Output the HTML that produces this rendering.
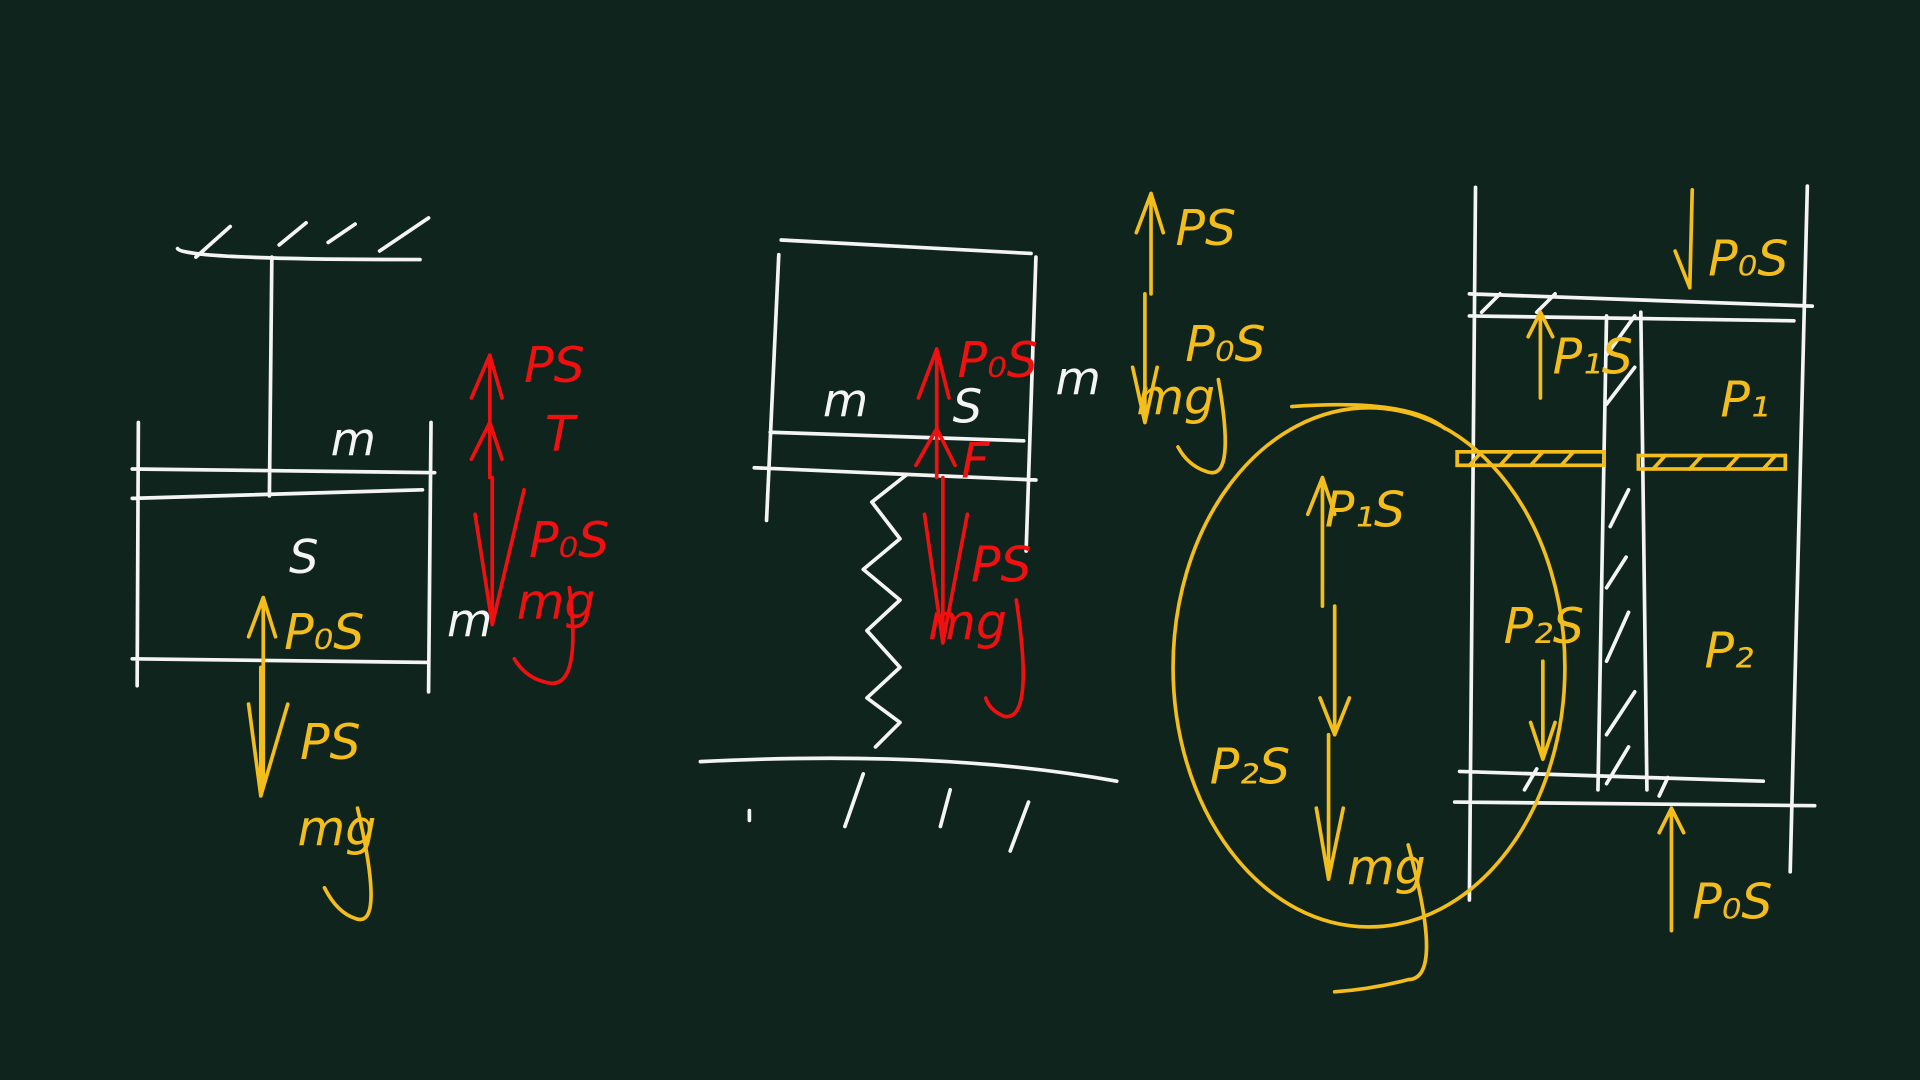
<!DOCTYPE html>
<html><head><meta charset="utf-8"><style>
html,body{margin:0;padding:0;background:#10241e;width:1920px;height:1080px;overflow:hidden}
svg{display:block}
text{font-family:"DejaVu Sans","Liberation Sans",sans-serif;font-style:italic}
.w{stroke:#f4f4f4;stroke-width:3;fill:none;stroke-linecap:round;stroke-linejoin:round}
.y{stroke:#f3bd1c;stroke-width:3;fill:none;stroke-linecap:round;stroke-linejoin:round}
.r{stroke:#f01010;stroke-width:3;fill:none;stroke-linecap:round;stroke-linejoin:round}
.ty{fill:#f3bd1c;font-size:40px}
.tr{fill:#f01010;font-size:40px}
.tw{fill:#f4f4f4;font-size:38px}
</style></head><body>
<svg width="1920" height="1080" viewBox="0 0 1568 882" xmlns="http://www.w3.org/2000/svg">
<rect width="1568" height="882" fill="#10241e"/>
<!-- LEFT -->
<path class="w" d="M145,203 Q150,212 343,212 M160,210 L188,185 M228,200 L250,182 M268,198 L290,183 M310,205 L350,178"/>
<path class="w" d="M222,210 L220,405 M113,345 L112,560 M352,345 L350,565 M108,383 L355,386 M108,407 L345,400 M108,538 L350,541"/>
<text class="tw" x="270" y="372">m</text>
<text class="tw" x="236" y="468">S</text>
<path class="y" d="M215,640 L215,488 M203,520 L215,488 L225,520 M213,545 L213,650 M203,575 L213,650 L235,575"/>
<text class="ty" x="232" y="530">P₀S</text>
<text class="ty" x="245" y="620">PS</text>
<text class="ty" x="243" y="690">mg</text>
<path class="y" d="M292,660 Q315,760 290,750 Q275,745 265,725"/>
<path class="r" d="M400,390 L400,290 M385,325 L400,290 L410,325 M385,375 L400,345 L410,375 M402,390 L402,510 M388,420 L402,510 L428,400"/>
<text class="tr" x="428" y="312">PS</text>
<text class="tr" x="445" y="368">T</text>
<text class="tr" x="432" y="455">P₀S</text>
<text class="tr" x="422" y="505">mg</text>
<path class="r" d="M465,480 Q475,560 450,558 Q430,555 420,538"/>
<text class="tw" x="365" y="520">m</text>
<!-- MIDDLE -->
<path class="w" d="M638,196 L842,207 M636,208 L626,425 M846,210 L838,450 M629,353 L836,360 M616,382 L846,392"/>
<path class="w" d="M740,388 L712,410 L735,440 L705,465 L735,490 L708,515 L735,545 L708,570 L735,590 L715,610"/>
<path class="w" d="M572,622 Q770,612 912,638 M612,662 L612,670 M690,675 L705,632 M768,675 L776,645 M825,695 L840,655"/>
<text class="tw" x="672" y="340">m</text>
<path class="r" d="M765,390 L765,285 M750,325 L765,285 L775,325 M748,380 L765,350 L780,380 M770,390 L770,525 M755,420 L770,525 L790,420"/>
<text class="tr" x="782" y="308">P₀S</text>
<text class="tw" x="778" y="345" style="fill:#f4f4f4">S</text>
<text class="tr" x="785" y="390">F</text>
<text class="tr" x="793" y="475">PS</text>
<text class="tr" x="758" y="522">mg</text>
<path class="r" d="M830,490 Q845,590 820,585 Q808,580 805,570"/>
<path class="y" d="M940,240 L940,158 M928,190 L940,158 L950,190 M935,240 L935,345 M925,300 L935,345 L945,300"/>
<text class="ty" x="960" y="200">PS</text>
<text class="ty" x="968" y="295">P₀S</text>
<text class="ty" x="928" y="338">mg</text>
<path class="y" d="M995,310 Q1010,395 985,385 Q970,380 962,365"/>
<text class="tw" x="862" y="322">m</text>
<!-- RIGHT -->
<path class="w" d="M1205,153 L1200,735 M1476,152 L1462,712 M1312,258 L1305,645 M1340,255 L1345,645 M1200,240 L1480,250 M1200,258 L1465,262 M1192,630 L1440,638 M1188,655 L1482,658"/>
<path class="w" d="M1210,255 L1225,240 M1255,255 L1270,240 M1312,290 L1335,258 M1312,330 L1335,300 M1315,430 L1330,400 M1312,480 L1328,455 M1312,540 L1330,500 M1312,600 L1335,565 M1312,640 L1330,610 M1245,645 L1255,628 M1355,650 L1362,635"/>
<rect x="1190" y="369" width="120" height="11" fill="none" stroke="#f3bd1c" stroke-width="3"/>
<rect x="1338" y="372" width="120" height="11" fill="none" stroke="#f3bd1c" stroke-width="3"/>
<path class="y" d="M1200,380 L1210,369 M1225,380 L1235,369 M1250,380 L1260,369 M1275,380 L1285,369 M1350,383 L1360,372 M1380,383 L1390,372 M1410,383 L1420,372 M1440,383 L1450,372"/>
<path class="y" d="M1382,155 L1380,235 M1368,205 L1380,235 M1258,255 L1258,325 M1248,275 L1258,255 L1268,275 M1260,540 L1260,620 M1250,590 L1260,620 L1270,590 M1365,660 L1365,760 M1355,680 L1365,660 L1375,680"/>
<text class="ty" x="1395" y="225">P₀S</text>
<text class="ty" x="1268" y="305">P₁S</text>
<text class="ty" x="1405" y="340">P₁</text>
<text class="ty" x="1392" y="545">P₂</text>
<text class="ty" x="1228" y="525">P₂S</text>
<text class="ty" x="1382" y="750">P₀S</text>
<ellipse cx="1118" cy="545" rx="160" ry="212" class="y"/>
<path class="y" d="M1055,332 Q1150,325 1180,350"/>
<path class="y" d="M1080,495 L1080,390 M1068,420 L1080,390 L1090,420 M1090,495 L1090,600 M1078,570 L1090,600 L1102,570 M1085,600 L1085,718 M1075,660 L1085,718 L1097,660"/>
<text class="ty" x="1082" y="430">P₁S</text>
<text class="ty" x="988" y="640">P₂S</text>
<text class="ty" x="1100" y="722">mg</text>
<path class="y" d="M1150,690 Q1180,800 1150,800 Q1120,808 1090,810"/>
</svg>
</body></html>
